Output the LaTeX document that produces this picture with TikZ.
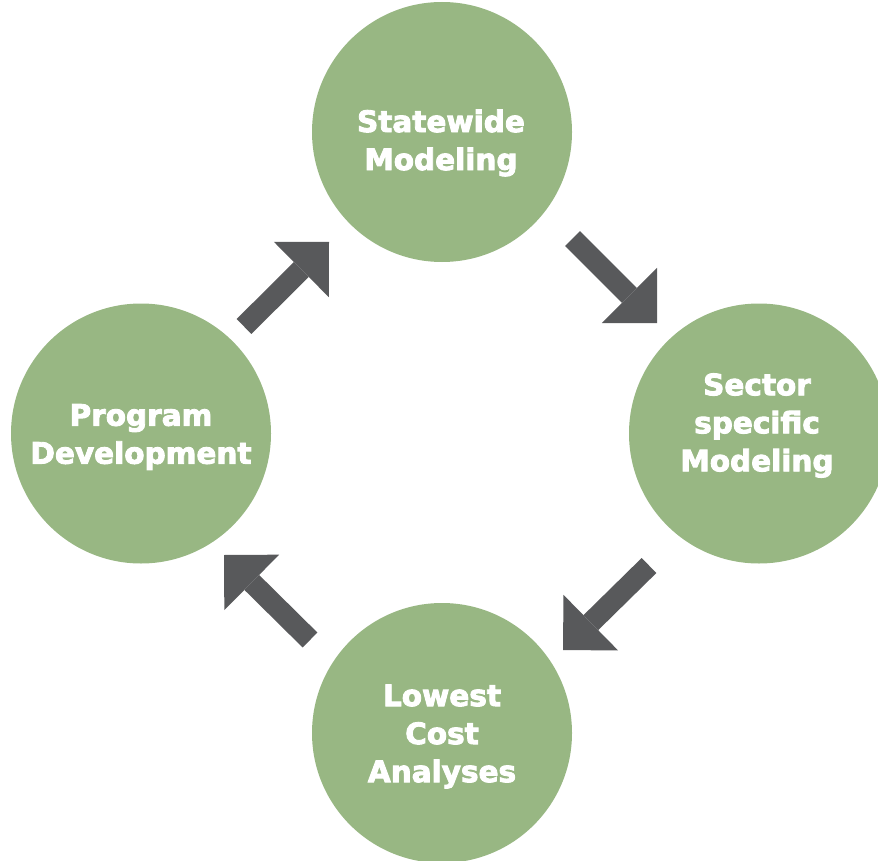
\documentclass[tikz,border=0pt]{standalone}
\usepackage{fontspec}
\setmainfont{DejaVu Sans}[BoldFeatures={FakeBold=3}]
\usetikzlibrary{arrows.meta,calc}
\definecolor{stagegreen}{HTML}{98B783}
\definecolor{arrowgray}{HTML}{58595B}

\begin{document}
\begin{tikzpicture}[x=1pt,y=-1pt,
    stage/.style={circle,fill=stagegreen,minimum size=260pt,inner sep=0pt},
    stagetext/.style={text=white,font=\bfseries\fontsize{29.5}{38}\selectfont,align=center},
    bigarrow/.style={draw=arrowgray,line width=21pt,
      -{Triangle[length=39pt,width=78pt,line width=0pt]}}]
      \useasboundingbox (0,0) rectangle (878,861);
      % the four stages
      \node[stage] (top) at (442,132) {};
      \node[stage] (right) at (759,433.5) {};
      \node[stage] (bottom) at (442,733) {};
      \node[stage] (left) at (141,433.5) {};
      \node[stagetext] (toptext) at (441,143) {Statewide\\Modeling};
      \node[stagetext] (righttext) at (757,425.5) {Sector\\specific\\Modeling};
      \node[stagetext] (bottomtext) at (442,736.5) {Lowest\\Cost\\Analyses};
      \node[stagetext] (lefttext) at (141,437) {Program\\Development};
      % arrows round the cycle
      \draw[bigarrow] ($(top)+(130.5,106.5)$) -- ($(right)+(-102,-110.5)$);
      \draw[bigarrow] ($(right)+(-110,132)$) -- ($(bottom)+(121,-83)$);
      \draw[bigarrow] ($(bottom)+(-132,-93)$) -- ($(left)+(83,121.5)$);
      \draw[bigarrow] ($(left)+(103,-107)$) -- ($(top)+(-113,110)$);
\end{tikzpicture}
\end{document}
